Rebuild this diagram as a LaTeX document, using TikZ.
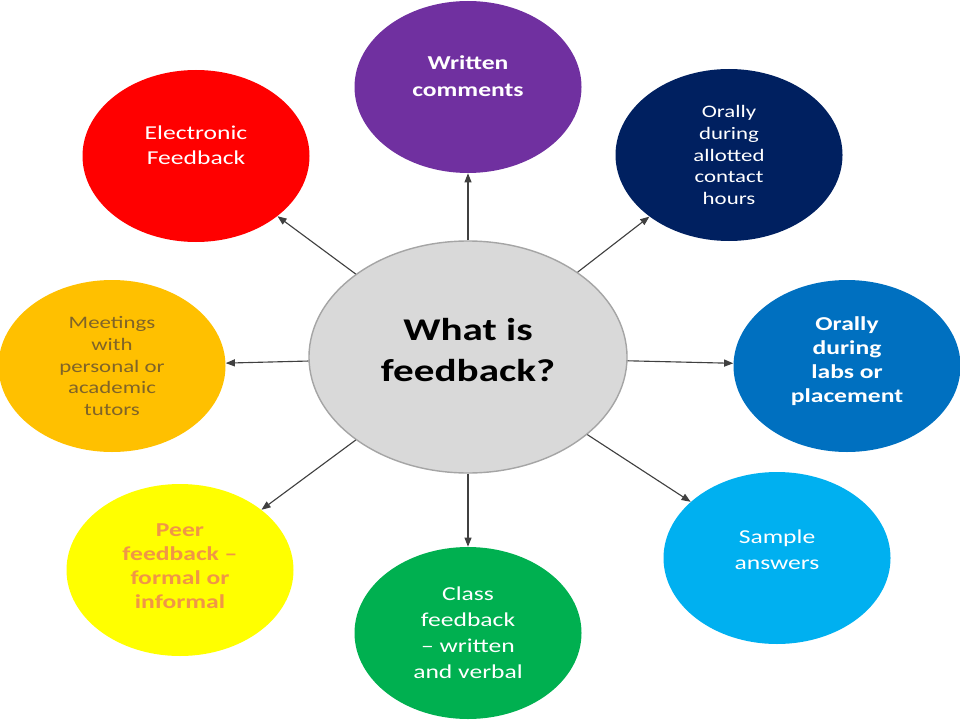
\documentclass[tikz,border=0pt]{standalone}
\usepackage{fontspec}
\setmainfont{Carlito}[FakeStretch=1.3]
\usepackage{tikz}
\usetikzlibrary{shapes.geometric,arrows.meta}

\definecolor{hubgray}{RGB}{217,217,217}
\definecolor{hubedge}{RGB}{165,165,165}
\definecolor{violetfb}{RGB}{112,48,160}
\definecolor{redfb}{RGB}{255,0,0}
\definecolor{navyfb}{RGB}{0,32,96}
\definecolor{goldfb}{RGB}{255,192,0}
\definecolor{bluefb}{RGB}{0,112,192}
\definecolor{yellowfb}{RGB}{255,255,0}
\definecolor{greenfb}{RGB}{0,176,80}
\definecolor{skyfb}{RGB}{0,176,240}
\definecolor{olivetxt}{RGB}{128,100,40}
\definecolor{orangetxt}{RGB}{240,150,70}
\definecolor{linkgray}{RGB}{64,64,64}

\begin{document}
\begin{tikzpicture}[
    bubble/.style={ellipse,minimum width=5.675cm,minimum height=4.3cm,inner sep=0pt},
    hub/.style={ellipse,minimum width=7.95cm,minimum height=5.8cm,fill=hubgray,draw=hubedge,line width=1pt},
    txt/.style={align=center,text=white,font=\fontsize{14}{18}\selectfont},
    link/.style={draw=linkgray,line width=0.8pt,-{Triangle[length=6.5pt,width=5pt]}}]
    \useasboundingbox (0,0) rectangle (24,18);
    % centre
    \node[hub] (hub) at (11.7,9.075) {};
    \node[txt,text=black,font=\fontsize{22.5}{29}\selectfont\bfseries,yshift=0.175cm] (hubtxt) at (hub) {What is\\feedback?};
    % outer bubbles
    \node[bubble,fill=violetfb] (written) at (11.7,15.825) {};
    \node[txt,font=\fontsize{14}{19}\selectfont\bfseries,yshift=0.275cm] (writtentxt) at (written) {Written\\comments};
    \node[bubble,fill=redfb] (elec) at (4.9,14.1) {};
    \node[txt,font=\fontsize{14}{18}\selectfont,yshift=0.275cm] (electxt) at (elec) {Electronic\\Feedback};
    \node[bubble,fill=navyfb] (allot) at (18.225,14.125) {};
    \node[txt,font=\fontsize{12.5}{15.5}\selectfont] (allottxt) at (allot) {Orally\\during\\allotted\\contact\\hours};
    \node[bubble,fill=goldfb] (meet) at (2.8,8.85) {};
    \node[txt,text=olivetxt,font=\fontsize{12.5}{15.5}\selectfont] (meettxt) at (meet) {Meetings\\with\\personal or\\academic\\tutors};
    \node[bubble,fill=bluefb] (labs) at (21.175,8.85) {};
    \node[txt,font=\fontsize{14}{17}\selectfont\bfseries,yshift=0.125cm] (labstxt) at (labs) {Orally\\during\\labs or\\placement};
    \node[bubble,fill=yellowfb] (peer) at (4.5,3.75) {};
    \node[txt,text=orangetxt,font=\fontsize{14}{17}\selectfont\bfseries,yshift=0.09cm] (peertxt) at (peer) {Peer\\feedback --\\formal or\\informal};
    \node[bubble,fill=greenfb] (class) at (11.7,2.175) {};
    \node[txt,font=\fontsize{14}{18.5}\selectfont] (classtxt) at (class) {Class\\feedback\\-- written\\and verbal};
    \node[bubble,fill=skyfb] (sample) at (19.425,4.05) {};
    \node[txt,font=\fontsize{14}{18}\selectfont,yshift=0.21cm] (sampletxt) at (sample) {Sample\\answers};
    % arrows
    \foreach \b in {written,elec,allot,meet,labs,peer,class,sample}
        \draw[link] (hub) -- (\b);
\end{tikzpicture}
\end{document}
